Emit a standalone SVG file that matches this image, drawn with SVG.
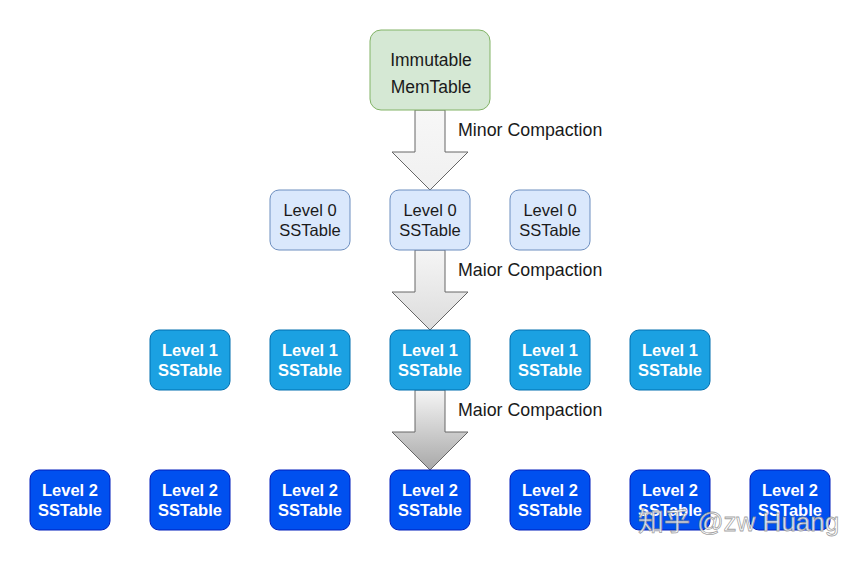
<svg xmlns="http://www.w3.org/2000/svg" width="861" height="561" viewBox="0 0 861 561">
<defs>
<linearGradient id="g1" x1="0" y1="0" x2="0" y2="1"><stop offset="0" stop-color="#f7f7f7"/><stop offset="1" stop-color="#f0f0f0"/></linearGradient>
<linearGradient id="g2" x1="0" y1="0" x2="0" y2="1"><stop offset="0" stop-color="#f5f5f5"/><stop offset="1" stop-color="#dcdcdc"/></linearGradient>
<linearGradient id="g3" x1="0" y1="0" x2="0" y2="1"><stop offset="0" stop-color="#f5f5f5"/><stop offset="1" stop-color="#a8a8a8"/></linearGradient>
</defs>
<style>
text{font-family:"Liberation Sans",Arial,sans-serif;text-anchor:middle}
.l0 rect{fill:#dae8fc;stroke:#6c8ebf;stroke-width:1}
.l0 text{fill:#1a1a1a;font-size:16.5px}
.l1 rect{fill:#1ba1e2;stroke:#006eaf;stroke-width:1}
.l2 rect{fill:#0050ef;stroke:#001dbc;stroke-width:1}
.l1 text,.l2 text{fill:#ffffff;font-size:16.5px;font-weight:bold}
.arr{stroke:#666666;stroke-width:1}
.lbl{font-size:17.8px;fill:#1a1a1a;text-anchor:start}
</style>
<rect width="861" height="561" fill="#ffffff"/>
<g id="connectors">
<path class="arr" fill="url(#g1)" d="M415,110 H445 V152 H468 L430,190 L392,152 H415 Z"/>
<path class="arr" fill="url(#g2)" d="M415,250 H445 V292 H468 L430,330 L392,292 H415 Z"/>
<path class="arr" fill="url(#g3)" d="M415,390 H445 V432 H468 L430,470 L392,432 H415 Z"/>
<text class="lbl" x="458" y="136">Minor Compaction</text>
<text class="lbl" x="458" y="276">Maior Compaction</text>
<text class="lbl" x="458" y="416">Maior Compaction</text>
</g>
<g id="immutable">
<rect x="370" y="30" width="120" height="80" rx="11" fill="#d5e8d4" stroke="#82b366"/>
<text x="431" y="66" font-size="17.5" fill="#1a1a1a">Immutable</text>
<text x="431" y="92.5" font-size="17.5" fill="#1a1a1a">MemTable</text>
</g>
<g id="l0a" class="l0"><rect x="270" y="190" width="80" height="60" rx="9"/><text x="310" y="216">Level 0</text><text x="310" y="236">SSTable</text></g>
<g id="l0b" class="l0"><rect x="390" y="190" width="80" height="60" rx="9"/><text x="430" y="216">Level 0</text><text x="430" y="236">SSTable</text></g>
<g id="l0c" class="l0"><rect x="510" y="190" width="80" height="60" rx="9"/><text x="550" y="216">Level 0</text><text x="550" y="236">SSTable</text></g>
<g id="l1a" class="l1"><rect x="150" y="330" width="80" height="60" rx="9"/><text x="190" y="356">Level 1</text><text x="190" y="376">SSTable</text></g>
<g id="l1b" class="l1"><rect x="270" y="330" width="80" height="60" rx="9"/><text x="310" y="356">Level 1</text><text x="310" y="376">SSTable</text></g>
<g id="l1c" class="l1"><rect x="390" y="330" width="80" height="60" rx="9"/><text x="430" y="356">Level 1</text><text x="430" y="376">SSTable</text></g>
<g id="l1d" class="l1"><rect x="510" y="330" width="80" height="60" rx="9"/><text x="550" y="356">Level 1</text><text x="550" y="376">SSTable</text></g>
<g id="l1e" class="l1"><rect x="630" y="330" width="80" height="60" rx="9"/><text x="670" y="356">Level 1</text><text x="670" y="376">SSTable</text></g>
<g id="l2a" class="l2"><rect x="30" y="470" width="80" height="60" rx="9"/><text x="70" y="496">Level 2</text><text x="70" y="516">SSTable</text></g>
<g id="l2b" class="l2"><rect x="150" y="470" width="80" height="60" rx="9"/><text x="190" y="496">Level 2</text><text x="190" y="516">SSTable</text></g>
<g id="l2c" class="l2"><rect x="270" y="470" width="80" height="60" rx="9"/><text x="310" y="496">Level 2</text><text x="310" y="516">SSTable</text></g>
<g id="l2d" class="l2"><rect x="390" y="470" width="80" height="60" rx="9"/><text x="430" y="496">Level 2</text><text x="430" y="516">SSTable</text></g>
<g id="l2e" class="l2"><rect x="510" y="470" width="80" height="60" rx="9"/><text x="550" y="496">Level 2</text><text x="550" y="516">SSTable</text></g>
<g id="l2f" class="l2"><rect x="630" y="470" width="80" height="60" rx="9"/><text x="670" y="496">Level 2</text><text x="670" y="516">SSTable</text></g>
<g id="l2g" class="l2"><rect x="750" y="470" width="80" height="60" rx="9"/><text x="790" y="496">Level 2</text><text x="790" y="516">SSTable</text></g>
<text x="638" y="531" font-size="26" style="text-anchor:start;font-family:'Liberation Sans','Noto Sans CJK SC',sans-serif" fill="#ffffff" fill-opacity="0.85" stroke="#8a8a8a" stroke-opacity="0.8" stroke-width="0.8">知乎 @zw Huang</text>
</svg>
